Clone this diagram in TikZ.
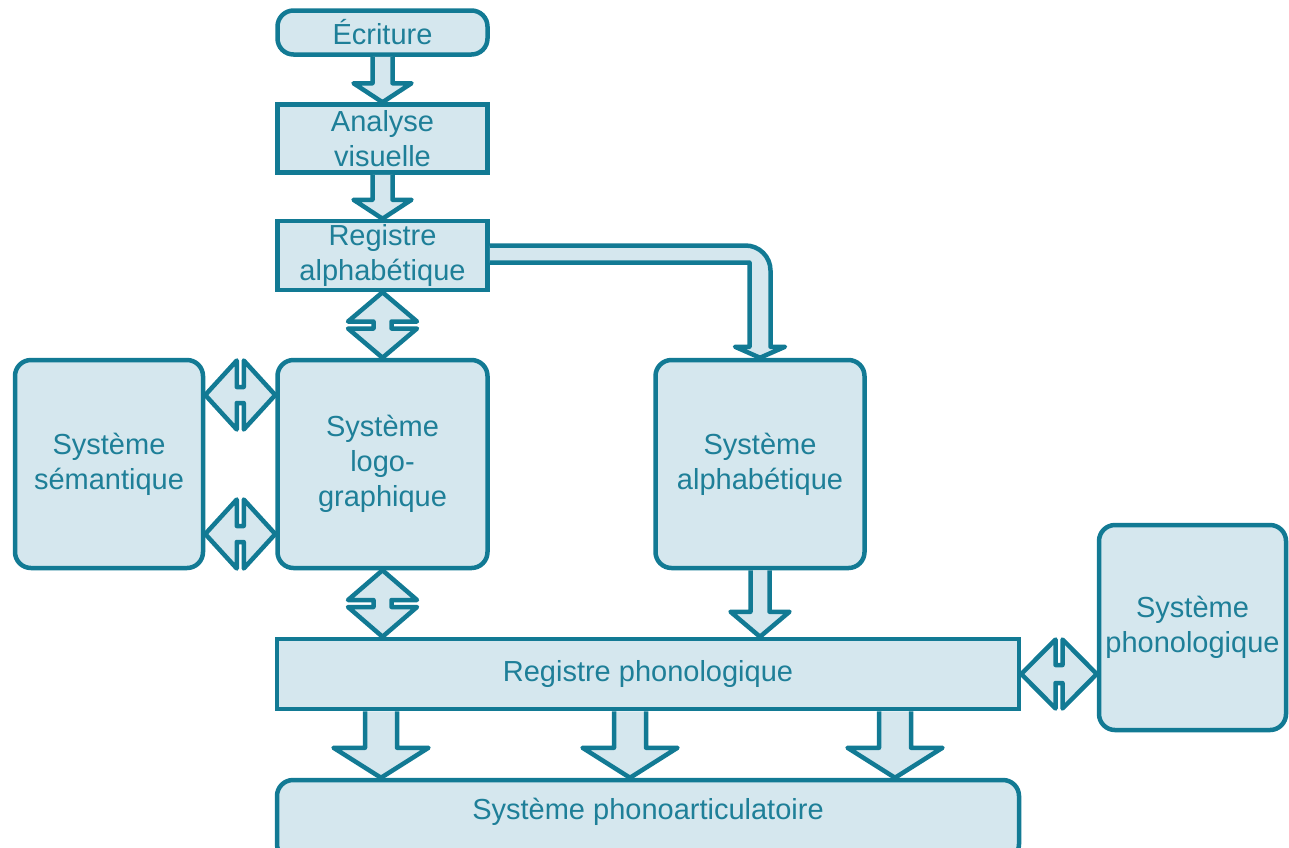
\documentclass[tikz,border=0pt]{standalone}
\usepackage{fontspec}
\setmainfont{Liberation Sans}
\usetikzlibrary{calc}
\definecolor{tealline}{RGB}{18,122,148}
\definecolor{tealfill}{RGB}{213,231,238}
\definecolor{tealtext}{RGB}{30,127,152}
\tikzset{
 box/.style={draw=tealline, fill=tealfill, line width=4.5pt, text=tealtext, align=center, inner sep=0pt, font=\fontsize{29}{35}\selectfont},
 rbox/.style={box, rounded corners=16pt},
 blk/.style={draw=tealline, fill=tealfill, line width=4.5pt, line join=round},
 lbl/.style={text=tealtext, align=center, inner sep=0pt, font=\fontsize{29}{35}\selectfont},
}
% #1 start (top), #2 end (tip), #3 shaft half width, #4 head half width, #5 head length
\newcommand\blkdown[5]{%
 \draw[blk] let \p1=#1, \p2=#2 in
  (\x1-#3,\y1) -- (\x1-#3,\y2+#5) -- (\x1-#4,\y2+#5) -- (\x1,\y2)
  -- (\x1+#4,\y2+#5) -- (\x1+#3,\y2+#5) -- (\x1+#3,\y1);}
% vertical double arrow: #1 top tip, #2 bottom tip, #3 shaft half, #4 head half, #5 notch gap
\newcommand\dblv[5]{%
 \draw[blk] let \p1=#1, \p2=#2, \n1={(\y1-\y2-#5)/2} in
  (\x1,\y1) -- (\x1-#4,\y1-\n1) -- (\x1-#3,\y1-\n1) -- (\x1-#3,\y2+\n1)
  -- (\x1-#4,\y2+\n1) -- (\x1,\y2) -- (\x1+#4,\y2+\n1) -- (\x1+#3,\y2+\n1)
  -- (\x1+#3,\y1-\n1) -- (\x1+#4,\y1-\n1) -- cycle;}
% horizontal double arrow: #1 left tip, #2 right tip
\newcommand\dblh[5]{%
 \draw[blk] let \p1=#1, \p2=#2, \n1={(\x2-\x1-#5)/2} in
  (\x1,\y1) -- (\x1+\n1,\y1+#4) -- (\x1+\n1,\y1+#3) -- (\x2-\n1,\y1+#3)
  -- (\x2-\n1,\y1+#4) -- (\x2,\y1) -- (\x2-\n1,\y1-#4) -- (\x2-\n1,\y1-#3)
  -- (\x1+\n1,\y1-#3) -- (\x1+\n1,\y1-#4) -- cycle;}
\begin{document}
\begin{tikzpicture}[x=1pt,y=-1pt]
\useasboundingbox (0,0) rectangle (1289,847);
% boxes
\node[rbox, minimum width=210pt, minimum height=44pt] (ecr) at (382.5,32.5) {Écriture};
\node[box, minimum width=210pt, minimum height=68pt] (ana) at (382.5,138.5) {Analyse\\visuelle};
\node[box, minimum width=210pt, minimum height=69pt] (rega) at (382.5,255.5) {Registre\\alphabétique};
\node[rbox, minimum width=188pt, minimum height=208pt] (sem) at (109,464) {Système\\sémantique};
\node[rbox, minimum width=210pt, minimum height=208pt] (logo) at (382.5,464) {Système\\logo-\\graphique};
\node[rbox, minimum width=209pt, minimum height=208pt] (alpha) at (760,464) {Système\\alphabétique};
\node[rbox, minimum width=187pt, minimum height=205pt] (phon) at (1192.5,627.5) {Système\\phonologique};
\node[box, minimum width=742pt, minimum height=70pt] (regp) at (648,674) {Registre phonologique};
\node[rbox, minimum width=742pt, minimum height=80pt] (art) at (648,820) {};
\node[lbl] (artlbl) at (648,812) {Système phonoarticulatoire};
% helper coordinates
\coordinate (xa) at (381,0);
\coordinate (xb) at (630,0);
\coordinate (xc) at (895,0);
\coordinate (ya) at (0,395);
\coordinate (yb) at (0,534);
% single block arrows
\blkdown{(ecr.south)}{(ana.north)}{10}{29}{19}
\blkdown{(ana.south)}{(rega.north)}{10}{29}{19}
\blkdown{(alpha.south)}{(regp.north -| alpha.south)}{9.5}{29.5}{25}
\blkdown{(regp.south -| xa)}{(art.north -| xa)}{16}{47.5}{30}
\blkdown{(regp.south -| xb)}{(art.north -| xb)}{16}{47.5}{30}
\blkdown{(regp.south -| xc)}{(art.north -| xc)}{16}{47.5}{30}
% bent arrow
\draw[blk] let \p1=(rega.east), \p2=(alpha.north) in
  (\x1,\y1+10) -- (\x2+10.5-25,\y1+10) arc[start angle=90, end angle=0, radius=25pt]
  -- (\x2+10.5,\y2+11) -- (\x2+25,\y2+11) -- (\x2,\y2) -- (\x2-25,\y2+11)
  -- (\x2-10.5,\y2+11) -- (\x2-10.5,\y1-7) -- (\x1,\y1-7);
% double arrows
\dblv{(rega.south)}{(logo.north)}{9}{34.5}{7}
\dblv{(logo.south)}{(regp.north -| logo.south)}{9}{34.5}{7}
\dblh{(sem.east |- ya)}{(logo.west |- ya)}{8}{34.5}{7}
\dblh{(sem.east |- yb)}{(logo.west |- yb)}{8}{34.5}{7}
\dblh{(regp.east)}{(phon.west |- regp.east)}{9}{34.5}{7}
\end{tikzpicture}
\end{document}
